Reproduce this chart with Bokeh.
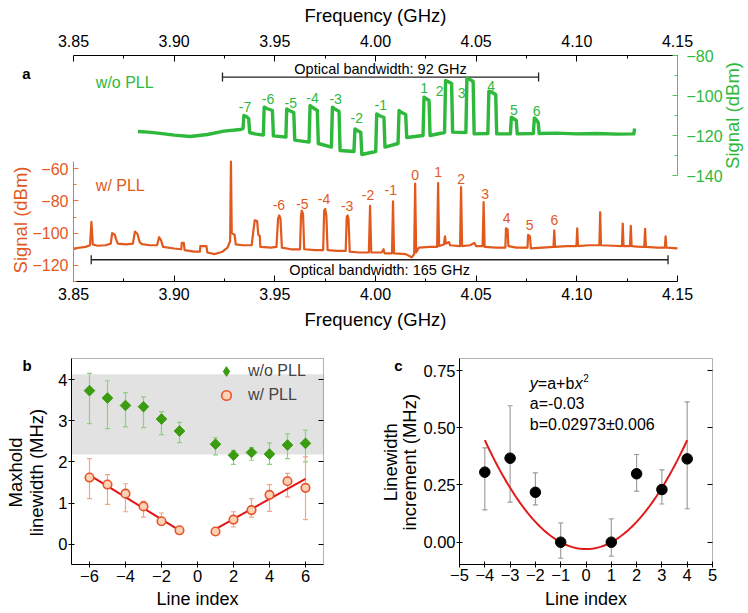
import numpy as np
from bokeh.plotting import figure
from bokeh.models import (Range1d, LinearAxis, FixedTicker, Label, Legend, LegendItem,
                          Whisker, TeeHead, ColumnDataSource, BoxAnnotation, NumeralTickFormatter)
from bokeh.layouts import column, row
from bokeh.embed import file_html
from bokeh.resources import INLINE
from bokeh.core.properties import value

FONT = "Liberation Sans"

# ---------------- Panel a data ----------------
freq_ticks = [3.85, 3.90, 3.95, 4.00, 4.05, 4.10, 4.15]
freq_minor = [3.875, 3.925, 3.975, 4.025, 4.075, 4.125]
orange_ticks = [-60, -80, -100, -120]
orange_minor = [-70, -90, -110, -130]
green_ticks = [-80, -100, -120, -140]
green_minor = [-90, -110, -130]

# spectrum without PLL (green, right axis)
green_trace = [
    (3.882, -118), (3.887, -118.3), (3.892, -118.8), (3.900, -119.8), (3.908, -120.5),
    (3.9165, -119.5), (3.9247, -117.8), (3.933, -117), (3.9342, -116.5), (3.9346, -110),
    (3.9358, -110.5), (3.9370, -111.5), (3.9375, -118.5), (3.940, -119.2), (3.9443, -119.8),
    (3.9447, -105.8), (3.9460, -106.5), (3.9488, -107.5), (3.9493, -120.2), (3.9555, -120.8),
    (3.9559, -106.7), (3.9570, -107.5), (3.9594, -108.5), (3.9599, -122.3), (3.9670, -123.3),
    (3.9675, -105), (3.9688, -106), (3.9711, -107.5), (3.9716, -124), (3.9781, -125.8),
    (3.9786, -105.8), (3.9798, -106.8), (3.9819, -108), (3.9824, -127.5), (3.9893, -128),
    (3.9898, -116.7), (3.9910, -117.5), (3.9927, -118.5), (3.9932, -129.5), (4.0001, -128),
    (4.0006, -109.2), (4.0018, -110), (4.0042, -111), (4.0047, -125.8), (4.0112, -124),
    (4.0117, -107.5), (4.0130, -108.5), (4.0150, -109.5), (4.0155, -121), (4.0236, -120),
    (4.0241, -100.8), (4.0250, -101.5), (4.0266, -102.5), (4.0271, -120), (4.0343, -118.5),
    (4.0348, -92.5), (4.0360, -93), (4.0378, -94), (4.0383, -118.3), (4.0449, -118.5),
    (4.0454, -91.2), (4.0466, -91.8), (4.0485, -93), (4.0490, -119.2), (4.0558, -119),
    (4.0563, -97.8), (4.0575, -98.3), (4.0597, -99.5), (4.0602, -119.2), (4.0670, -119.2),
    (4.0675, -110.8), (4.0685, -111.5), (4.0699, -112.5), (4.0704, -119.2), (4.0784, -119),
    (4.0789, -111.2), (4.0798, -112), (4.0808, -113.5), (4.0813, -119), (4.090, -118.8),
    (4.100, -119.2), (4.110, -119), (4.120, -119.3), (4.1283, -119.2), (4.1287, -116.5),
]

# spectrum with PLL (orange, left axis)
orange_trace = [
    (3.8500, -109.5), (3.8560, -108.5), (3.8582, -107.5), (3.8589, -93), (3.8596, -107),
    (3.8620, -107.8), (3.8660, -107.5), (3.8685, -106.5), (3.8692, -100), (3.8705, -101),
    (3.8712, -104), (3.8720, -106.5), (3.8760, -107), (3.8795, -106.5), (3.8805, -99),
    (3.8818, -100.5), (3.8828, -105.5), (3.8840, -106.8), (3.8880, -107.5), (3.8915, -107.5),
    (3.8925, -102.5), (3.8935, -104.5), (3.8945, -108.5), (3.9000, -109.5), (3.9035, -110),
    (3.9038, -106), (3.9048, -106), (3.9052, -110.5), (3.9100, -111.5), (3.9128, -111.5),
    (3.9130, -108), (3.9160, -108), (3.9165, -112), (3.9200, -113), (3.9240, -111.5),
    (3.9265, -109), (3.9278, -105), (3.9282, -55.5), (3.9286, -100), (3.9300, -101),
    (3.9306, -107), (3.9340, -107.5), (3.9385, -107.5), (3.9393, -99), (3.9400, -92),
    (3.9412, -92.5), (3.9418, -101), (3.9425, -101.5), (3.9428, -108.5), (3.9480, -109),
    (3.9508, -108.5), (3.9516, -91), (3.9522, -89), (3.9528, -91), (3.9535, -109),
    (3.9580, -110), (3.9625, -110), (3.9630, -89), (3.9634, -86), (3.9640, -88),
    (3.9646, -110), (3.9700, -110.5), (3.9740, -110.5), (3.9745, -86), (3.9750, -85),
    (3.9756, -89), (3.9762, -110.5), (3.9810, -111), (3.9852, -111), (3.9857, -90),
    (3.9861, -89), (3.9866, -91), (3.9872, -111.5), (3.9920, -112), (3.9967, -112),
    (3.9973, -83), (3.9979, -112), (4.0030, -112), (4.0040, -110), (4.0045, -112.5),
    (4.0082, -112.5), (4.0087, -80.3), (4.0092, -112.5), (4.0150, -113), (4.0180, -115),
    (4.0192, -113), (4.0197, -69.3), (4.0202, -112), (4.0215, -109), (4.0270, -108.5),
    (4.0306, -108.5), (4.0311, -68.9), (4.0316, -108), (4.0340, -107), (4.0345, -102),
    (4.0350, -106.5), (4.0365, -105.5), (4.0370, -107.5), (4.0420, -108), (4.0425, -71.4),
    (4.0430, -108), (4.0470, -107.5), (4.0490, -106), (4.0500, -108), (4.0532, -108),
    (4.0537, -80.7), (4.0542, -108.5), (4.0600, -109), (4.0645, -109), (4.0648, -97),
    (4.0656, -97.5), (4.0660, -108), (4.0700, -109), (4.0755, -109), (4.0758, -101),
    (4.0767, -102), (4.0772, -109.5), (4.0830, -109), (4.0884, -108.5), (4.0888, -98.3),
    (4.0892, -108.5), (4.0950, -108), (4.0998, -108), (4.1002, -97), (4.1006, -108),
    (4.1060, -107.5), (4.1112, -107.5), (4.1116, -87), (4.1120, -107.5), (4.1180, -107.8),
    (4.1224, -108), (4.1228, -94), (4.1232, -108), (4.1264, -108), (4.1268, -95.5),
    (4.1272, -108), (4.1300, -108.3), (4.1335, -108.5), (4.1339, -97.3), (4.1343, -108.5),
    (4.1400, -109), (4.1437, -109), (4.1441, -102), (4.1445, -109), (4.1500, -109.5),
]

green_line_labels = ["-7", "-6", "-5", "-4", "-3", "-2", "-1", "1", "2", "3", "4", "5", "6"]
green_label_f = [3.9352, 3.9466, 3.9579, 3.9687, 3.9802, 3.9907, 4.0026, 4.0241, 4.0319, 4.0428, 4.0575, 4.0687, 4.0801]
green_label_db = [-105.8, -101.7, -103.7, -101.3, -101.7, -111.3, -104.7, -96.3, -97.5, -98.8, -95.0, -107.2, -107.8]

orange_line_labels = ["-6", "-5", "-4", "-3", "-2", "-1", "0", "1", "2", "3", "4", "5", "6"]
orange_label_f = [3.952, 3.9637, 3.9744, 3.9859, 3.9963, 4.0076, 4.0197, 4.0311, 4.0425, 4.0545, 4.0651, 4.0765, 4.0888]
orange_label_db = [-82.8, -81.7, -79.0, -83.2, -76.6, -73.5, -63.6, -62.1, -66.2, -75.5, -90.4, -95.2, -92.1]

bw_green = dict(start=3.924, end=4.081, level=-90.8, text="Optical bandwidth: 92 GHz", text_db=-86.7)
bw_orange = dict(start=3.8588, end=4.1453, level=-116.5, text="Optical bandwidth: 165 GHz", text_db=-122.9)

# ---------------- Panel b data ----------------
line_idx = [-6, -5, -4, -3, -2, -1, 1, 2, 3, 4, 5, 6]
wo_pll = [3.73, 3.55, 3.37, 3.34, 3.04, 2.75, 2.43, 2.16, 2.23, 2.19, 2.41, 2.45]
wo_pll_hi = [4.15, 3.97, 3.68, 3.58, 3.22, 2.96, 2.59, 2.28, 2.35, 2.46, 2.68, 2.77]
wo_pll_lo = [2.93, 2.81, 2.85, 2.83, 2.66, 2.47, 2.17, 1.94, 2.04, 1.94, 2.08, 2.00]
w_pll = [1.62, 1.45, 1.23, 0.92, 0.56, 0.34, 0.31, 0.60, 0.83, 1.20, 1.53, 1.37]
w_pll_hi = [2.08, 1.69, 1.47, 1.05, 0.76, 0.40, 0.36, 0.79, 1.11, 1.45, 1.72, 2.12]
w_pll_lo = [1.11, 0.97, 0.79, 0.66, 0.46, 0.28, 0.26, 0.42, 0.66, 0.80, 1.15, 0.60]
fit_left_x = [-6, -1]
fit_left_y = [1.68, 0.34]
fit_right_x = [1, 6]
fit_right_y = [0.37, 1.59]
band_lo, band_hi = 2.18, 4.13

# ---------------- Panel c data ----------------
inc_idx = [-4, -3, -2, -1, 1, 2, 3, 4]
inc_val = [0.306, 0.367, 0.218, 0.0, 0.0, 0.299, 0.230, 0.364]
inc_hi = [0.412, 0.596, 0.303, 0.084, 0.102, 0.383, 0.316, 0.613]
inc_lo = [0.141, 0.175, 0.163, -0.070, -0.061, 0.223, 0.167, 0.146]
fit_a = -0.03
fit_b = 0.02973
fit_b_err = 0.006

GREEN = "#2eb83c"
ORANGE = "#e2591e"
ORANGE_AX = "#e8763d"
GREEN_AX = "#4cc45a"
DIAMOND = "#3b9c12"


def lab(p, x, y, text, size, color="black", style="normal", angle=0.0, align="center",
        y_range_name="default", **kw):
    p.add_layout(Label(x=x, y=y, text=text, text_font=FONT, text_font_size=size, text_color=color,
                       text_font_style=style, angle=angle, text_align=align, text_baseline="middle",
                       y_range_name=y_range_name, **kw))


def style_axis(ax, color, ticks, minor=None, fsize="16px", tin=6, tout=0, mtin=3):
    ax.ticker = FixedTicker(ticks=ticks, minor_ticks=minor or [])
    ax.axis_line_color = color
    ax.major_tick_line_color = color
    ax.minor_tick_line_color = color if minor else None
    ax.major_label_text_color = color
    ax.major_tick_in = tin
    ax.major_tick_out = tout
    ax.minor_tick_in = mtin
    ax.minor_tick_out = 0
    ax.major_label_text_font = FONT
    ax.major_label_text_font_size = fsize


# ================= Panel a =================
# frame covers the whole canvas; axes are drawn at fixed data locations
pa = figure(width=748, height=330, x_range=Range1d(3.813742, 4.185265), y_range=Range1d(-160.42, 44.43),
            output_backend="svg", toolbar_location=None, min_border=0)
pa.outline_line_color = None
pa.grid.visible = False
pa.background_fill_color = None
pa.border_fill_color = "white"
pa.extra_y_ranges = {"g": Range1d(-217.5, -52.5)}

bottom = pa.xaxis[0]
style_axis(bottom, "black", freq_ticks, freq_minor)
bottom.formatter = NumeralTickFormatter(format="0.00")
bottom.fixed_location = -130
bottom.bounds = (3.85, 4.15)
bottom.major_label_standoff = 7

top = LinearAxis()
style_axis(top, "black", freq_ticks, freq_minor)
top.formatter = NumeralTickFormatter(format="0.00")
top.fixed_location = 10.286
top.bounds = (3.85, 4.15)
top.major_label_standoff = 9
pa.add_layout(top, "above")

left = pa.yaxis[0]
style_axis(left, ORANGE_AX, orange_ticks, orange_minor, tin=5)
left.major_label_text_color = ORANGE
left.fixed_location = 3.85
left.bounds = (-130, -55.5)
left.major_label_standoff = 5

right = LinearAxis(y_range_name="g")
style_axis(right, GREEN_AX, green_ticks, green_minor, tin=5)
right.major_label_text_color = GREEN
right.fixed_location = 4.15
right.bounds = (-140, -80)
right.major_label_standoff = 9
pa.add_layout(right, "right")

gsrc = ColumnDataSource(dict(f=[p[0] for p in green_trace], db=[p[1] for p in green_trace]))
osrc = ColumnDataSource(dict(f=[p[0] for p in orange_trace], db=[p[1] for p in orange_trace]))
pa.line("f", "db", source=gsrc, y_range_name="g", line_color=GREEN, line_width=3.4, line_join="round")
pa.line("f", "db", source=osrc, line_color=ORANGE, line_width=2.2, line_join="round")

pa.text(x=green_label_f, y=green_label_db, text=green_line_labels, y_range_name="g",
        text_color=GREEN, text_font=value(FONT), text_font_size=value("14px"),
        text_align="center", text_baseline="middle")
pa.text(x=orange_label_f, y=orange_label_db, text=orange_line_labels,
        text_color=ORANGE, text_font=value(FONT), text_font_size=value("14px"),
        text_align="center", text_baseline="middle")

for bw, rng in ((bw_green, "g"), (bw_orange, "default")):
    src = ColumnDataSource(dict(base=[bw["level"]], lower=[bw["start"]], upper=[bw["end"]]))
    w = Whisker(base="base", lower="lower", upper="upper", dimension="width", source=src,
                line_color="#222222", line_width=1.3,
                upper_head=TeeHead(size=9, line_color="#222222", line_width=1.3),
                lower_head=TeeHead(size=9, line_color="#222222", line_width=1.3),
                y_range_name=rng)
    pa.add_layout(w)
    lab(pa, (bw["start"] + bw["end"]) / 2, bw["text_db"], bw["text"], "14.5px", y_range_name=rng)

lab(pa, 3.8611, -93.5, "w/o PLL", "16px", color=GREEN, align="left", y_range_name="g")
lab(pa, 3.8611, -70.4, "w/ PLL", "16px", color=ORANGE, align="left")
lab(pa, 4.0, 35.1, "Frequency (GHz)", "18.5px")
lab(pa, 4.0, -153.6, "Frequency (GHz)", "18.5px")
lab(pa, 3.82343, -91.8, "Signal (dBm)", "18.5px", color=ORANGE, angle=np.pi / 2)
lab(pa, 4.17732, -110, "Signal (dBm)", "18.5px", color=GREEN, angle=np.pi / 2, y_range_name="g")
lab(pa, 3.82666, -0.58, "a", "15px", style="bold")


# ================= Panels b, c helpers =================
def box_axes(p, xticks, yticks, xb, yb, yfmt=None):
    p.grid.visible = False
    p.outline_line_color = None
    p.background_fill_color = None
    bx, ly = p.xaxis[0], p.yaxis[0]
    style_axis(bx, "black", xticks, fsize="16.5px", tin=3, tout=3)
    style_axis(ly, "black", yticks, fsize="16.5px", tin=3, tout=3)
    bx.fixed_location = yb[0]
    bx.bounds = xb
    bx.major_label_standoff = 2
    ly.fixed_location = xb[0]
    ly.bounds = yb
    ly.major_label_standoff = 1
    if yfmt:
        ly.formatter = NumeralTickFormatter(format=yfmt)
    r = LinearAxis()
    style_axis(r, "black", yticks, tin=5, tout=0)
    r.major_label_overrides = {t: "" for t in yticks}
    r.major_label_text_color = None
    r.axis_line_color = None
    r.fixed_location = xb[1]
    r.bounds = yb
    p.add_layout(r, "right")
    p.add_layout(BoxAnnotation(left=xb[0], right=xb[1], bottom=yb[0], top=yb[1], fill_color=None,
                               fill_alpha=0, line_color="black", line_width=1))


# ================= Panel b =================
pb = figure(width=375, height=283, x_range=Range1d(-10.944, 9.889), y_range=Range1d(-1.6793, 5.1896),
            output_backend="svg", toolbar_location=None, min_border=0)
box_axes(pb, [-6, -4, -2, 0, 2, 4, 6], [0, 1, 2, 3, 4], (-7, 7), (-0.49, 4.51))

pb.add_layout(BoxAnnotation(left=-7, right=7, bottom=band_lo, top=band_hi, fill_color="#e2e2e2",
                            fill_alpha=1, line_color=None, level="underlay"))

g_src = ColumnDataSource(dict(x=line_idx, y=wo_pll, hi=wo_pll_hi, lo=wo_pll_lo))
o_src = ColumnDataSource(dict(x=line_idx, y=w_pll, hi=w_pll_hi, lo=w_pll_lo))
for src, col in ((g_src, "#8fd27a"), (o_src, "#f2a684")):
    pb.add_layout(Whisker(base="x", upper="hi", lower="lo", source=src, line_color=col, line_width=1.2,
                          upper_head=TeeHead(size=5, line_color=col, line_width=1.2),
                          lower_head=TeeHead(size=5, line_color=col, line_width=1.2), level="underlay"))

pb.line(fit_left_x, fit_left_y, line_color="#e01515", line_width=2)
pb.line(fit_right_x, fit_right_y, line_color="#e01515", line_width=2)
# narrow diamond markers (used for the legend key), hidden under the rotated squares below
rg_key = pb.scatter("x", "y", source=g_src, marker="diamond", size=10, fill_color=DIAMOND, line_color=DIAMOND)
pb.scatter("x", "y", source=g_src, marker="square", angle=np.pi / 4, size=7.5,
           fill_color=DIAMOND, line_color=DIAMOND)
ro = pb.scatter("x", "y", source=o_src, marker="circle", size=8.5,
                fill_color="#fcd3b4", line_color="#e8532a", line_width=1.6)
leg = Legend(items=[LegendItem(label="w/o PLL", renderers=[rg_key]), LegendItem(label="w/ PLL", renderers=[ro])],
             location=(214, 206), background_fill_alpha=0, border_line_color=None,
             label_text_font=FONT, label_text_font_size="16px", glyph_width=24, glyph_height=24,
             label_standoff=10, spacing=-5, padding=0, margin=0, label_height=19)
pb.add_layout(leg)

lab(pb, 0, -1.3153, "Line index", "18px")
lab(pb, -10.111, 1.743, "Maxhold", "18.5px", angle=np.pi / 2)
lab(pb, -8.961, 1.743, "linewidth (MHz)", "18.5px", angle=np.pi / 2)
lab(pb, -9.461, 4.34, "b", "15px", style="bold")

# ================= Panel c =================
pc = figure(width=373, height=283, x_range=Range1d(-8.3202, 6.4229), y_range=Range1d(-0.31149, 0.92475),
            output_backend="svg", toolbar_location=None, min_border=0)
box_axes(pc, list(range(-5, 6)), [0, 0.25, 0.5, 0.75], (-5, 5), (-0.0974, 0.8024), yfmt="0.00")

c_src = ColumnDataSource(dict(x=inc_idx, y=inc_val, hi=inc_hi, lo=inc_lo))
pc.add_layout(Whisker(base="x", upper="hi", lower="lo", source=c_src, line_color="#999999", line_width=1.1,
                      upper_head=TeeHead(size=5, line_color="#999999", line_width=1.1),
                      lower_head=TeeHead(size=5, line_color="#999999", line_width=1.1), level="underlay"))
fx = np.linspace(-4, 4, 81)
pc.line(fx, fit_a + fit_b * fx ** 2, line_color="#e31a1a", line_width=2)
pc.scatter("x", "y", source=c_src, marker="circle", size=10.5, fill_color="black", line_color="black")

tx = -2.221
lab(pc, tx, 0.692, "y", "16px", style="italic", align="left")
lab(pc, tx, 0.692, "=a+b", "16px", align="left", x_offset=8)
lab(pc, tx, 0.692, "x", "16px", style="italic", align="left", x_offset=45)
lab(pc, tx, 0.692, "2", "10px", align="left", x_offset=53.5, y_offset=6)
lab(pc, tx, 0.607, f"a={fit_a}", "16px", align="left")
lab(pc, tx, 0.513, f"b={fit_b}\u00b1{fit_b_err}", "16px", align="left")

lab(pc, 0, -0.246, "Line index", "18px")
lab(pc, -7.727, 0.3494, "Linewidth", "18.5px", angle=np.pi / 2)
lab(pc, -6.976, 0.3494, "increment (MHz)", "18.5px", angle=np.pi / 2)
lab(pc, -7.411, 0.7718, "c", "15px", style="bold")

layout = column(pa, row(pb, pc, spacing=0), spacing=0)
open("out.html", "w").write(file_html(layout, INLINE))
